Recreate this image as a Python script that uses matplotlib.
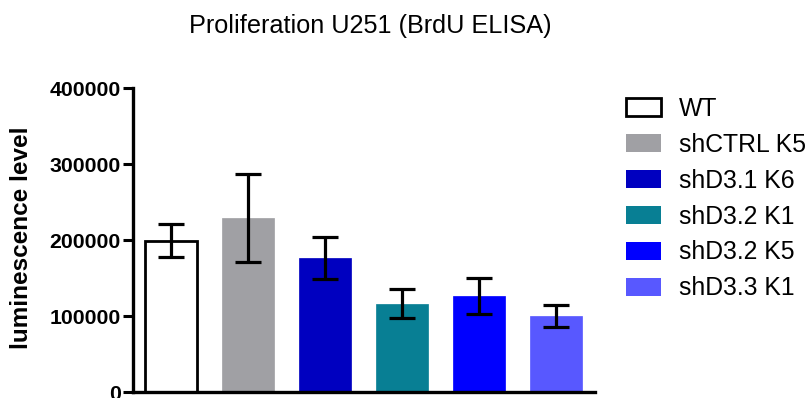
import matplotlib
matplotlib.use("Agg")
import matplotlib.pyplot as plt
from matplotlib.patches import Patch

plt.rcParams['font.family'] = ['Liberation Sans', 'DejaVu Sans']

# Dữ liệu: trung bình và sai số của từng nhóm
groups = ["WT", "shCTRL K5", "shD3.1 K6", "shD3.2 K1", "shD3.2 K5", "shD3.3 K1"]
means = [199000, 229000, 176500, 116000, 126500, 100000]
errors = [22000, 58500, 27500, 19000, 24000, 15000]
colors = ["#FFFFFF", "#A0A0A4", "#0000C0", "#087F94", "#0000FF", "#5858FF"]
y_ticks = [0, 100000, 200000, 300000, 400000]

fig = plt.figure(figsize=(8.08, 3.98), dpi=100)
ax = fig.add_axes([133 / 808, 6 / 398, 462 / 808, 304 / 398])

x = list(range(len(groups)))
edge = ["black"] + colors[1:]
lw = [2.0] + [0.5] * 5
ax.bar(x, means, width=0.675, color=colors, edgecolor=edge, linewidth=lw, zorder=2)
ax.errorbar(x, means, yerr=errors, fmt="none", ecolor="black",
            elinewidth=2.3, capsize=9.7, capthick=2.3, zorder=3)

ax.set_xlim(-0.49, 5.51)
ax.set_ylim(0, 400000)
ax.set_yticks(y_ticks)
ax.set_yticklabels([str(t) for t in y_ticks], fontsize=15.3, fontweight="bold")
ax.set_xticks([])
ax.tick_params(axis="y", direction="out", length=7, width=2.2, pad=2)
for s in ["top", "right"]:
    ax.spines[s].set_visible(False)
for s in ["left", "bottom"]:
    ax.spines[s].set_linewidth(2.4)

fig.text(22 / 808, 1 - 238 / 398, "luminescence level", rotation=90,
         fontsize=17.5, fontweight="bold", ha="center", va="center")
fig.text(370 / 808, 1 - 33 / 398, "Proliferation U251 (BrdU ELISA)",
         fontsize=18.2, ha="center", va="baseline")

# Chú thích
handles = [Patch(facecolor=c, edgecolor=e, linewidth=w)
           for c, e, w in zip(colors, edge, [2.0] + [0] * 5)]
fig.legend(handles, groups, loc="upper left", bbox_to_anchor=(626 / 808, 1 - 97 / 398),
           frameon=False, fontsize=17.8, handlelength=1.42, handleheight=0.73,
           handletextpad=0.73, labelspacing=0.48, borderaxespad=0, borderpad=0)

fig.savefig("out.png", dpi=100)
